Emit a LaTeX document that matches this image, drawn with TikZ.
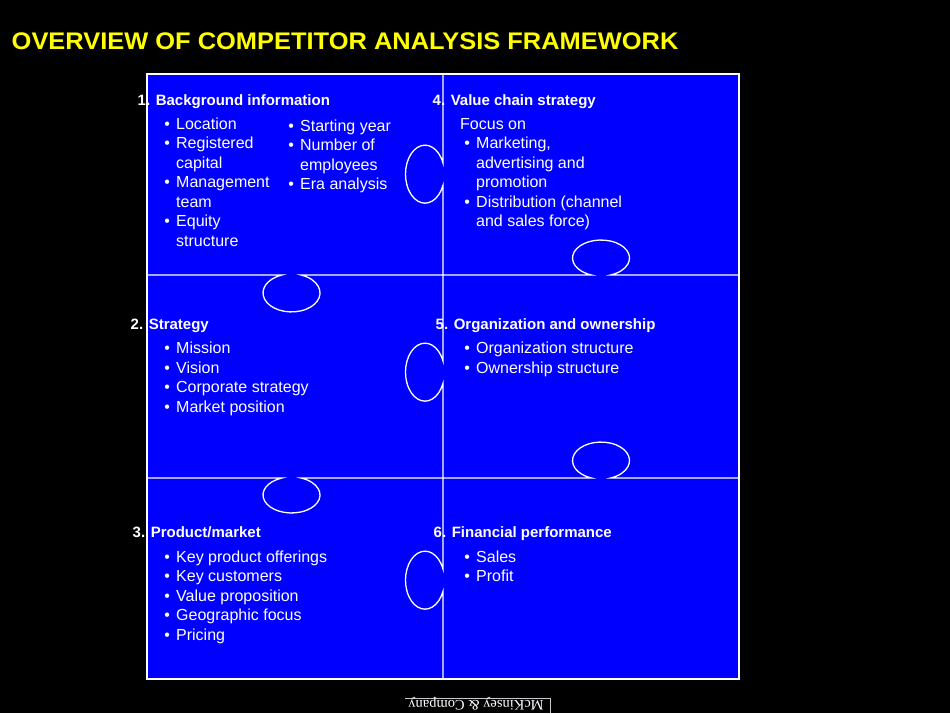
\documentclass[tikz,border=0pt]{standalone}
\usepackage{fontspec}
\setmainfont{Liberation Sans}
\newfontfamily\logofont{Liberation Serif}
\definecolor{puzzleblue}{RGB}{0,0,255}
\definecolor{titleyellow}{RGB}{255,255,0}
\definecolor{logogrey}{RGB}{200,200,210}

\begin{document}
\begin{tikzpicture}[x=1pt,y=-1pt,
	seam/.style={draw=white,line width=1.3pt},
	heading/.style={anchor=base west,inner sep=0pt,text=white,font=\fontsize{15}{18}\selectfont\bfseries},
	bullets/.style={anchor=base west,inner sep=0pt,text=white,font=\fontsize{16}{19.5}\selectfont}]
	\fill[black] (0,0) rectangle (950,713);
	\useasboundingbox (0,0) rectangle (950,713);
	\node [anchor=base west,inner sep=0pt,xscale=1.06,transform shape,text=titleyellow,font=\fontsize{24}{29}\selectfont\bfseries] (title) at (11.5,49) {OVERVIEW OF COMPETITOR ANALYSIS FRAMEWORK};
	% puzzle
	\fill [puzzleblue] (147,74) rectangle (739,679);
	\draw [seam] (147,74) rectangle (739,679);
	\draw [seam] (443,74) -- (443,163) arc[start angle=-22.6,end angle=-337.4,x radius=19.5,y radius=29]
		-- (443,361) arc[start angle=-22.6,end angle=-337.4,x radius=19.5,y radius=29]
		-- (443,569) arc[start angle=-22.6,end angle=-337.4,x radius=19.5,y radius=29] -- (443,679);
	\draw [seam] (147,275) -- (282,275) arc[start angle=250.5,end angle=-70.5,x radius=28.5,y radius=19]
		-- (591.5,275) arc[start angle=109.5,end angle=430.5,x radius=28.5,y radius=18] -- (739,275);
	\draw [seam] (147,478) -- (282,478) arc[start angle=250.5,end angle=-70.5,x radius=28.5,y radius=18]
		-- (591.5,478) arc[start angle=109.5,end angle=430.5,x radius=28.5,y radius=18.5] -- (739,478);
	% pieces
	\node [heading] (background) at (137.5,105) {1. Background information};
	\node [bullets] (backgroundA) at (164.2,129) {\begin{tabular}[t]{@{}l@{\hspace{6.2pt}}l@{}}
		\textbullet & Location\\ \textbullet & Registered\\ & capital\\ \textbullet & Management\\ & team\\ \textbullet & Equity\\ & structure\end{tabular}};
	\node [bullets] (backgroundB) at (288.2,131) {\begin{tabular}[t]{@{}l@{\hspace{6.2pt}}l@{}}
		\textbullet & Starting year\\ \textbullet & Number of\\ & employees\\ \textbullet & Era analysis\end{tabular}};
	\node [heading] (valuechain) at (432.5,105) {4. Value chain strategy};
	\node [bullets] (focus) at (460,129) {Focus on};
	\node [bullets] (valuechainA) at (464.2,148.5) {\begin{tabular}[t]{@{}l@{\hspace{6.2pt}}l@{}}
		\textbullet & Marketing,\\ & advertising and\\ & promotion\\ \textbullet & Distribution (channel\\ & and sales force)\end{tabular}};
	\node [heading] (strategy) at (130.5,329) {2. Strategy};
	\node [bullets] (strategyA) at (164.2,353.5) {\begin{tabular}[t]{@{}l@{\hspace{6.2pt}}l@{}}
		\textbullet & Mission\\ \textbullet & Vision\\ \textbullet & Corporate strategy\\ \textbullet & Market position\end{tabular}};
	\node [heading] (organization) at (435.5,329) {5. Organization and ownership};
	\node [bullets] (organizationA) at (464.2,353.5) {\begin{tabular}[t]{@{}l@{\hspace{6.2pt}}l@{}}
		\textbullet & Organization structure\\ \textbullet & Ownership structure\end{tabular}};
	\node [heading] (product) at (132.5,537.5) {3. Product/market};
	\node [bullets] (productA) at (164.2,562) {\begin{tabular}[t]{@{}l@{\hspace{6.2pt}}l@{}}
		\textbullet & Key product offerings\\ \textbullet & Key customers\\ \textbullet & Value proposition\\ \textbullet & Geographic focus\\ \textbullet & Pricing\end{tabular}};
	\node [heading] (financial) at (433.5,537.5) {6. Financial performance};
	\node [bullets] (financialA) at (464.2,562) {\begin{tabular}[t]{@{}l@{\hspace{6.2pt}}l@{}}
		\textbullet & Sales\\ \textbullet & Profit\end{tabular}};
	% logo
	\draw [logogrey,line width=0.6pt] (405,698) -- (550,698) -- (550,713);
	\node [rotate=180,anchor=base,inner sep=0pt,text=white,font=\logofont\fontsize{14.5}{16}\selectfont] (logo) at (476,700.5) {McKinsey \& Company};
\end{tikzpicture}
\end{document}
